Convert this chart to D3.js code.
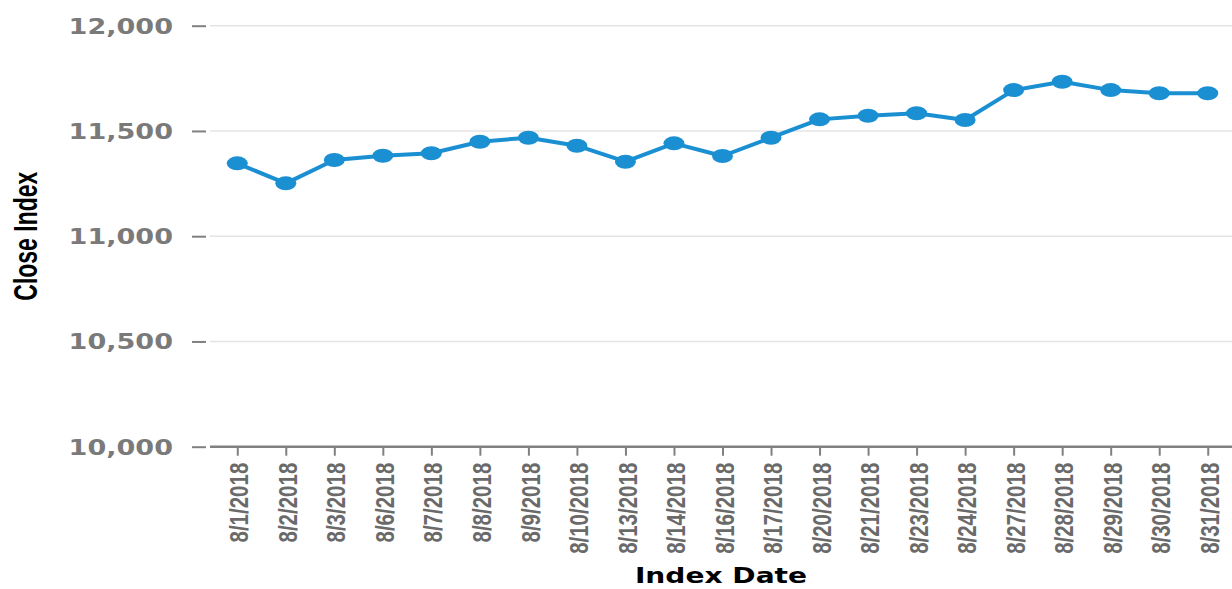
<!DOCTYPE html>
<html>
<head>
<meta charset="utf-8">
<script src="https://cdn.jsdelivr.net/npm/d3@7"></script>
<style>
  html, body { margin: 0; padding: 0; background: #ffffff; }
  svg { display: block; }
</style>
</head>
<body>
<svg id="chart" width="1232" height="589"></svg>
<script>
// Daily close of the index, August 2018
const dates = ["8/1/2018","8/2/2018","8/3/2018","8/6/2018","8/7/2018","8/8/2018","8/9/2018",
  "8/10/2018","8/13/2018","8/14/2018","8/16/2018","8/17/2018","8/20/2018","8/21/2018",
  "8/23/2018","8/24/2018","8/27/2018","8/28/2018","8/29/2018","8/30/2018","8/31/2018"];
const closeValues = [11346, 11251, 11362, 11382, 11394, 11449, 11468,
  11430, 11354, 11441, 11381, 11468, 11555, 11572,
  11584, 11552, 11694, 11734, 11694, 11679, 11679];
const yTickValues = [10000, 10500, 11000, 11500, 12000];
const yDomain = [10000, 12000];
const xTitle = "Index Date";
const yTitle = "Close Index";

const svg = d3.select("#chart");
const plotLeft = 210, plotRight = 1232, plotTop = 25.7, plotBottom = 446.7;

const x = d3.scalePoint().domain(dates).range([213, 1232]).padding(0.5);
const y = d3.scaleLinear().domain(yDomain).range([plotBottom, plotTop]);

const lineColor = "#1a8fd2";

// horizontal gridlines
svg.append("g")
  .selectAll("line")
  .data(yTickValues.filter(v => v !== yDomain[0]))
  .join("line")
  .attr("x1", plotLeft).attr("x2", plotRight)
  .attr("y1", d => y(d)).attr("y2", d => y(d))
  .attr("stroke", "#e4e4e4").attr("stroke-width", 1.5);

// y axis: short ticks and wide bold labels
const yAxis = svg.append("g")
  .attr("transform", `translate(206,0)`)
  .call(d3.axisLeft(y).tickValues(yTickValues).tickFormat(d3.format(",")).tickSize(14).tickPadding(19));
yAxis.select(".domain").remove();
yAxis.selectAll(".tick line").attr("stroke", "#808080").attr("stroke-width", 2);
yAxis.selectAll(".tick text")
  .attr("x", null).attr("dy", null)
  .attr("transform", "translate(-33,7.5) scale(1.32,1)")
  .attr("text-anchor", "end")
  .attr("fill", "#7a7a7a")
  .style("font-family", "'DejaVu Sans', sans-serif")
  .style("font-weight", "bold")
  .style("font-size", "20.5px");

// x axis baseline, ticks and rotated date labels
svg.append("line")
  .attr("x1", plotLeft).attr("x2", plotRight)
  .attr("y1", plotBottom).attr("y2", plotBottom)
  .attr("stroke", "#808080").attr("stroke-width", 2.4);

const xAxis = svg.append("g")
  .attr("transform", `translate(0,${plotBottom})`)
  .call(d3.axisBottom(x).tickSize(9).tickSizeOuter(0));
xAxis.select(".domain").remove();
xAxis.selectAll(".tick line").attr("stroke", "#808080").attr("stroke-width", 2);
xAxis.selectAll(".tick text")
  .attr("y", null).attr("dy", null)
  .attr("transform", "translate(1,16) rotate(-90) scale(1,1.3)")
  .attr("text-anchor", "end")
  .attr("dy", "0.36em")
  .attr("fill", "#6a6a6a")
  .style("font-family", "'Liberation Sans', Arial, sans-serif")
  .style("font-weight", "bold")
  .style("font-size", "20.5px");

// series line
svg.append("path")
  .datum(closeValues)
  .attr("fill", "none")
  .attr("stroke", lineColor)
  .attr("stroke-width", 4)
  .attr("stroke-linejoin", "round")
  .attr("d", d3.line().x((d, i) => x(dates[i])).y(d => y(d)));

// point markers
svg.append("g")
  .selectAll("ellipse")
  .data(closeValues)
  .join("ellipse")
  .attr("cx", (d, i) => x(dates[i]))
  .attr("cy", d => y(d))
  .attr("rx", 10.5).attr("ry", 7)
  .attr("fill", lineColor);

// axis titles
svg.append("text")
  .attr("transform", `translate(${(plotLeft + plotRight) / 2},583) scale(1.37,1)`)
  .attr("text-anchor", "middle")
  .attr("fill", "#000")
  .style("font-family", "'DejaVu Sans', sans-serif")
  .style("font-weight", "bold")
  .style("font-size", "20.5px")
  .text(xTitle);

svg.append("text")
  .attr("transform", `translate(37,${(plotTop + plotBottom) / 2}) rotate(-90) scale(1,1.45)`)
  .attr("text-anchor", "middle")
  .attr("fill", "#000")
  .style("font-family", "'Liberation Sans', Arial, sans-serif")
  .style("font-weight", "bold")
  .style("font-size", "23px")
  .text(yTitle);
</script>
</body>
</html>
